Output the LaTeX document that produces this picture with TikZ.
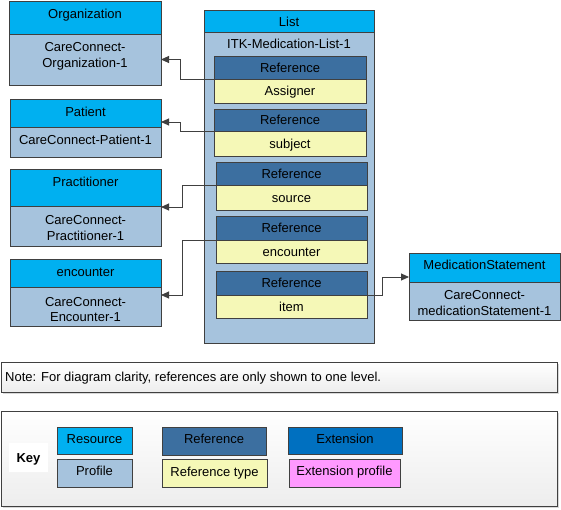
\documentclass[tikz,border=0pt]{standalone}
\usepackage{fontspec}
\setmainfont{Liberation Sans}
\usetikzlibrary{arrows.meta,calc}
\definecolor{res}{HTML}{00B0F0}
\definecolor{prof}{HTML}{A6C3DD}
\definecolor{refc}{HTML}{3C6FA0}
\definecolor{rtyp}{HTML}{F5F8B7}
\definecolor{ext}{HTML}{0070C0}
\definecolor{extp}{HTML}{FF99FF}
\definecolor{lc}{HTML}{404040}
\definecolor{shd}{HTML}{D8D8D8}
\begin{document}
\begin{tikzpicture}[x=1pt,y=-1pt,
  bx/.style={draw=lc, line width=0.9pt, inner sep=0pt, outer sep=0pt, anchor=north west},
  tx/.style={font=\fontsize{13}{15.5}\selectfont, inner sep=0pt, text height=10.5pt, text depth=1.5pt},
  txx/.style={font=\fontsize{13}{15.5}\selectfont, inner sep=0pt, align=center},
  conn/.style={draw=lc, line width=0.9pt, -{Triangle[length=8pt,width=7pt]}},
  panel/.style={draw=lc, line width=0.9pt, top color=white, bottom color=black!7, inner sep=0pt, outer sep=0pt, anchor=north west}]
\useasboundingbox (0,0) rectangle (561,509);

% ---------- Resources on the left ----------
\node[bx, fill=res,  minimum width=152pt, minimum height=33pt] (org)  at (9,1) {};
\node[bx, fill=prof, minimum width=152pt, minimum height=51pt] (orgp) at (9,34) {};
\node[tx] at ([yshift=-13pt]org.north) {Organization};
\node[txx] at ([yshift=-22.5pt]orgp.north) {CareConnect-\\Organization-1};

\node[bx, fill=res,  minimum width=151pt, minimum height=28pt] (pat)  at (10,99) {};
\node[bx, fill=prof, minimum width=151pt, minimum height=30pt] (patp) at (10,127) {};
\node[tx] at ([yshift=-13pt]pat.north) {Patient};
\node[tx] at ([yshift=-13pt]patp.north) {CareConnect-Patient-1};

\node[bx, fill=res,  minimum width=151pt, minimum height=37pt] (prac)  at (10,169) {};
\node[bx, fill=prof, minimum width=151pt, minimum height=40pt] (pracp) at (10,206) {};
\node[tx] at ([yshift=-13pt]prac.north) {Practitioner};
\node[txx] at ([yshift=-22pt]pracp.north) {CareConnect-\\Practitioner-1};

\node[bx, fill=res,  minimum width=151pt, minimum height=28pt] (enc)  at (10,259) {};
\node[bx, fill=prof, minimum width=151pt, minimum height=39pt] (encp) at (10,287) {};
\node[tx] at ([yshift=-13pt]enc.north) {encounter};
\node[txx] at ([yshift=-22.5pt]encp.north) {CareConnect-\\Encounter-1};

% ---------- List ----------
\node[bx, fill=res,  minimum width=170pt, minimum height=22pt]  (list)  at (204,10) {};
\node[bx, fill=prof, minimum width=170pt, minimum height=311pt] (listp) at (204,32) {};
\node[tx] at ([yshift=-12pt]list.north) {List};
\node[tx] at ([yshift=-12pt]listp.north) {ITK-Medication-List-1};

\node[bx, fill=refc, minimum width=152pt, minimum height=23pt] (aref) at (214,56) {};
\node[bx, fill=rtyp, minimum width=152pt, minimum height=24pt] (atyp) at (214,79) {};
\node[tx] at (aref.center) {Reference};
\node[tx] at (atyp.center) {Assigner};

\node[bx, fill=refc, minimum width=152pt, minimum height=22pt] (sref) at (214,109) {};
\node[bx, fill=rtyp, minimum width=152pt, minimum height=25pt] (styp) at (214,131) {};
\node[tx] at (sref.center) {Reference};
\node[tx] at (styp.center) {subject};

\node[bx, fill=refc, minimum width=151pt, minimum height=23pt] (oref) at (216,162) {};
\node[bx, fill=rtyp, minimum width=151pt, minimum height=25pt] (otyp) at (216,185) {};
\node[tx] at (oref.center) {Reference};
\node[tx] at (otyp.center) {source};

\node[bx, fill=refc, minimum width=151pt, minimum height=24pt] (eref) at (216,216) {};
\node[bx, fill=rtyp, minimum width=151pt, minimum height=23pt] (etyp) at (216,240) {};
\node[tx] at (eref.center) {Reference};
\node[tx] at (etyp.center) {encounter};

\node[bx, fill=refc, minimum width=151pt, minimum height=24pt] (iref) at (216,271) {};
\node[bx, fill=rtyp, minimum width=151pt, minimum height=23pt] (ityp) at (216,295) {};
\node[tx] at (iref.center) {Reference};
\node[tx] at (ityp.center) {item};

% ---------- MedicationStatement ----------
\node[bx, fill=res,  minimum width=151pt, minimum height=29pt] (ms)  at (409,253) {};
\node[bx, fill=prof, minimum width=151pt, minimum height=38pt] (msp) at (409,282) {};
\node[tx] at ([yshift=-12pt]ms.north) {MedicationStatement};
\node[txx] at ([yshift=-21pt]msp.north) {CareConnect-\\medicationStatement-1};

% ---------- Connectors ----------
\draw[conn] (atyp.north west) -- ++(-34,0) |- (orgp.east);
\draw[conn] (styp.north west) -- ++(-34,0) |- ([yshift=5pt]pat.south east);
\draw[conn] (otyp.north west) -- ++(-34,0) |- ([yshift=-1pt]pracp.north east);
\draw[conn] (etyp.north west) -- ++(-34,0) |- ([yshift=-8pt]encp.north east);
\draw[conn] (ityp.north east) -- ++(15,0) |- ([yshift=5pt]ms.south west);

% ---------- Note ----------
\fill[shd] (3,364) rectangle (559,394);
\node[panel, minimum width=556pt, minimum height=30pt] (note) at (1,362) {};
\node[tx, anchor=west] at ([xshift=4pt]note.west) {Note: For diagram clarity, references are only shown to one level.};

% ---------- Key ----------
\fill[shd] (3,413) rectangle (559,508);
\node[panel, minimum width=556pt, minimum height=95pt] (key) at (1,411) {};
\node[fill=white, inner sep=0pt, outer sep=0pt, minimum width=39pt, minimum height=29pt, anchor=north west] (keylab) at (9,443) {};
\node[tx, font=\fontsize{13}{15.5}\selectfont\bfseries] at (keylab.center) {Key};

\node[bx, fill=res,  minimum width=75pt, minimum height=27pt] (kres) at (57,427) {};
\node[bx, fill=prof, minimum width=75pt, minimum height=28pt] (kprof) at (57,459) {};
\node[tx] at ([yshift=-12pt]kres.north) {Resource};
\node[tx] at ([yshift=-12pt]kprof.north) {Profile};

\node[bx, fill=refc, minimum width=104pt, minimum height=28pt] (kref) at (162,427) {};
\node[bx, fill=rtyp, minimum width=105pt, minimum height=28pt] (krt) at (162,459) {};
\node[tx] at ([yshift=-12pt]kref.north) {Reference};
\node[tx] at ([yshift=-13pt]krt.north) {Reference type};

\node[bx, fill=ext,  minimum width=114pt, minimum height=27pt] (kext) at (288,427) {};
\node[bx, fill=extp, minimum width=111pt, minimum height=28pt] (kextp) at (289,459) {};
\node[tx] at ([yshift=-12pt]kext.north) {Extension};
\node[tx] at ([yshift=-12pt]kextp.north) {Extension profile};
\end{tikzpicture}
\end{document}
